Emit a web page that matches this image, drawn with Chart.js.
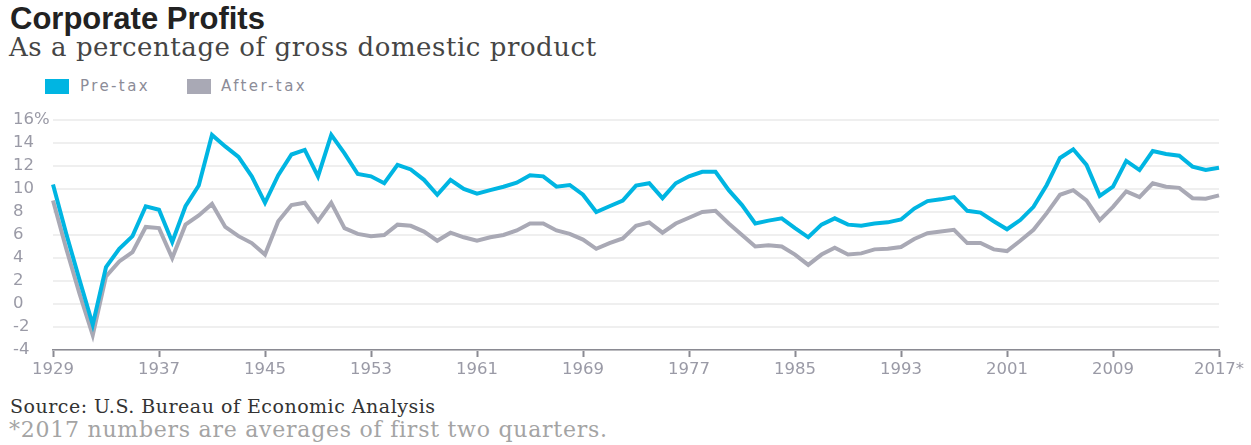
<!DOCTYPE html>
<html>
<head>
<meta charset="utf-8">
<script src="https://cdn.jsdelivr.net/npm/chart.js@4"></script>
<style>
  body { margin: 0; background: #fff; width: 1251px; height: 445px; overflow: hidden; position: relative; }
  #title { position: absolute; left: 10px; top: 1px; font: bold 31px "Liberation Sans", Arial, sans-serif; color: #222; letter-spacing: 0px; }
  #subtitle { position: absolute; left: 9px; top: 32px; font: 26px "DejaVu Serif", serif; color: #454545; letter-spacing: 0.55px; }
  .leg { position: absolute; top: 77px; font: 15px "DejaVu Sans", sans-serif; color: #8c8c98; letter-spacing: 2.4px; }
  .sw { position: absolute; top: 79px; width: 24px; height: 15px; }
  #source { position: absolute; left: 10px; top: 395px; font: 19px "DejaVu Serif", serif; color: #333; letter-spacing: 0.5px; }
  #note { position: absolute; left: 9px; top: 417px; font: 22px "DejaVu Serif", serif; color: #a4a4a4; letter-spacing: 0.75px; }
  canvas { position: absolute; left: 0; top: 0; }
</style>
</head>
<body>
<div id="title">Corporate Profits</div>
<div id="subtitle">As a percentage of gross domestic product</div>
<div class="sw" style="left:45px;background:#00b5e2"></div>
<div class="leg" style="left:80px">Pre-tax</div>
<div class="sw" style="left:187px;background:#a9a9b5"></div>
<div class="leg" style="left:221px">After-tax</div>
<canvas id="chart" width="1251" height="380"></canvas>
<div id="source">Source: U.S. Bureau of Economic Analysis</div>
<div id="note">*2017 numbers are averages of first two quarters.</div>
<script>
// years 1929 - 2017 (2017 = first two quarters)
var years = [];
for (var y = 1929; y <= 2017; y++) years.push(String(y));

var labeledYears = ["1929", "1937", "1945", "1953", "1961", "1969", "1977", "1985", "1993", "2001", "2009", "2017"];

var preTax = [
  10.4, 6.1, 2.1, -1.8, 3.2, 4.8, 5.9, 8.5, 8.2, 5.4,
  8.5, 10.3, 14.7, 13.7, 12.8, 11.1, 8.8, 11.2, 13.0, 13.4,
  11.1, 14.7, 13.1, 11.3, 11.1, 10.5, 12.1, 11.7, 10.8, 9.5,
  10.8, 10.0, 9.6, 9.9, 10.2, 10.55, 11.2, 11.1, 10.2, 10.35,
  9.5, 8.0, 8.5, 9.0, 10.3, 10.5, 9.2, 10.5, 11.1, 11.5,
  11.5, 9.9, 8.6, 7.0, 7.25, 7.45, 6.6, 5.8, 6.9, 7.45,
  6.9, 6.8, 7.0, 7.1, 7.35, 8.3, 8.95, 9.1, 9.3, 8.1,
  7.95, 7.2, 6.5, 7.3, 8.45, 10.35, 12.7, 13.45, 12.1, 9.4,
  10.2, 12.45, 11.65, 13.3, 13.05, 12.9, 11.95, 11.65, 11.85
];

var afterTax = [
  9.0, 4.8, 0.9, -2.7, 2.4, 3.7, 4.5, 6.7, 6.6, 4.0,
  6.9, 7.7, 8.7, 6.7, 5.9, 5.3, 4.3, 7.2, 8.6, 8.8,
  7.2, 8.8, 6.6, 6.1, 5.9, 6.0, 6.9, 6.8, 6.3, 5.5,
  6.2, 5.8, 5.5, 5.8, 6.0, 6.4, 7.0, 7.0, 6.4, 6.1,
  5.6, 4.8, 5.3, 5.7, 6.8, 7.1, 6.2, 7.0, 7.5, 8.0,
  8.1, 7.0, 6.0, 5.0, 5.1, 5.0, 4.3, 3.4, 4.3, 4.9,
  4.3, 4.4, 4.75, 4.8, 4.95, 5.65, 6.15, 6.3, 6.45, 5.3,
  5.3, 4.75, 4.6, 5.5, 6.45, 7.9, 9.5, 9.9, 9.0, 7.3,
  8.45, 9.8, 9.3, 10.5, 10.2, 10.1, 9.2, 9.15, 9.45
];

var tickFont = { family: "'DejaVu Sans', sans-serif", size: 16.5 };
var tickColor = "#9a9aa6";

new Chart(document.getElementById("chart"), {
  type: "line",
  data: {
    labels: years,
    datasets: [
      { label: "Pre-tax", data: preTax, borderColor: "#00b5e2", borderWidth: 4, pointRadius: 0, tension: 0, order: 1 },
      { label: "After-tax", data: afterTax, borderColor: "#a9a9b5", borderWidth: 4, pointRadius: 0, tension: 0, order: 2 }
    ]
  },
  options: {
    responsive: false,
    animation: false,
    layout: { padding: { left: 13, right: 32, top: 120, bottom: 0 } },
    plugins: { legend: { display: false }, tooltip: { enabled: false } },
    scales: {
      x: {
        grid: { drawOnChartArea: false, drawTicks: true, tickLength: 7, tickColor: "#8a8a92", tickWidth: 2 },
        border: { display: true, color: "#8a8a92", width: 1.5 },
        ticks: {
          autoSkip: false, maxRotation: 0, color: tickColor, font: tickFont, padding: 3,
          callback: function (val, i) {
            var lab = years[i];
            if (labeledYears.indexOf(lab) < 0) return null;
            return lab === "2017" ? "2017*" : lab;
          }
        },
        afterFit: function (scale) { scale.height = 30; }
      },
      y: {
        min: -4, max: 16,
        grid: { color: "#efefef", lineWidth: 2, drawTicks: false },
        border: { display: false },
        ticks: {
          stepSize: 2, color: tickColor, font: tickFont, padding: 0, crossAlign: "far",
          callback: function (v) { return v === 16 ? "16%" : String(v); }
        },
        afterFit: function (scale) { scale.width = 40; }
      }
    }
  }
});
</script>
</body>
</html>
